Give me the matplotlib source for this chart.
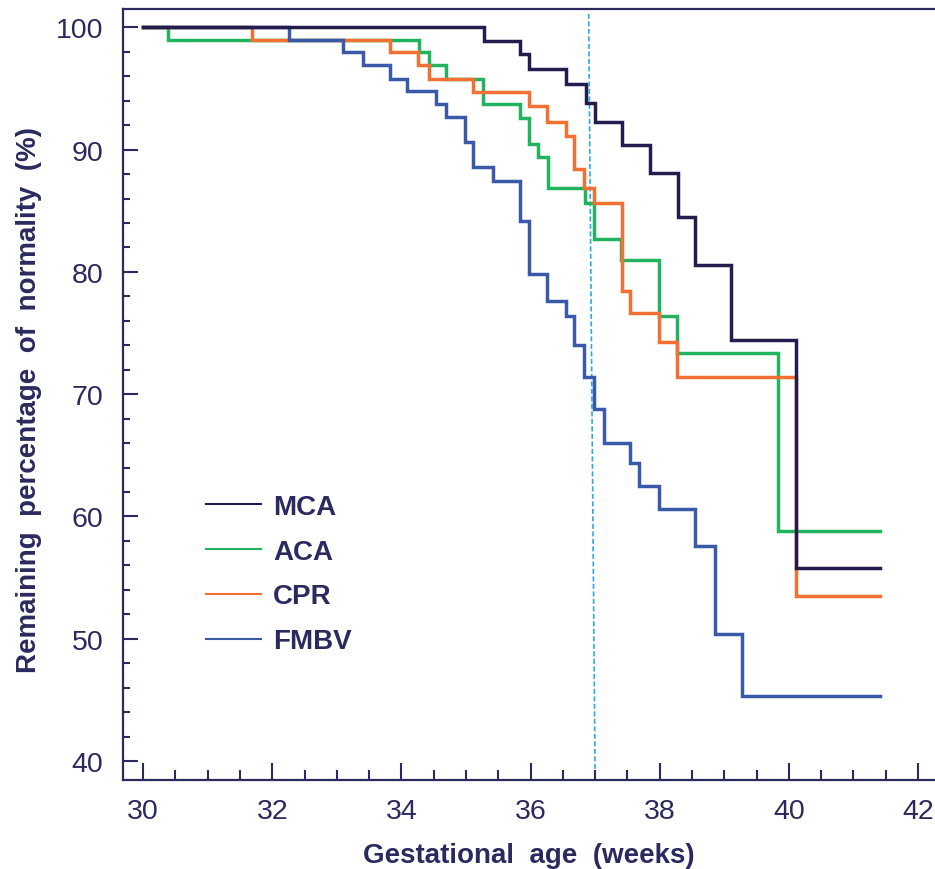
import numpy as np
import matplotlib
matplotlib.use('Agg')
import matplotlib.pyplot as plt
from matplotlib.lines import Line2D

# tweak matplotlib settings
plt.rcParams['font.family'] = 'Liberation Sans'
ink = '#2b2a5e'

# step data (week of drop, remaining % after the drop)
end_week = 41.41

mca_weeks = [30, 35.28, 35.84, 35.97, 36.55, 36.86, 37.0, 37.41, 37.85, 38.28, 38.55, 39.11, 40.11]
mca_pct = [100, 98.9, 97.8, 96.6, 95.4, 93.8, 92.3, 90.4, 88.1, 84.5, 80.6, 74.4, 55.8]

aca_weeks = [30, 30.39, 34.28, 34.42, 34.69, 35.27, 35.84, 35.97, 36.11, 36.27, 36.84, 36.98,
             37.40, 37.99, 38.27, 39.83]
aca_pct = [100, 99.0, 98.0, 96.9, 95.8, 93.7, 92.6, 90.5, 89.4, 86.9, 85.6, 82.7,
           81.0, 76.4, 73.4, 58.8]

cpr_weeks = [30, 31.68, 33.82, 34.26, 34.42, 35.11, 35.98, 36.25, 36.55, 36.67, 36.83, 36.98,
             37.41, 37.54, 37.99, 38.27, 40.11]
cpr_pct = [100, 99.0, 98.0, 96.9, 95.8, 94.7, 93.6, 92.3, 91.1, 88.4, 86.9, 85.6,
           78.4, 76.6, 74.3, 71.4, 53.5]

fmbv_weeks = [30, 32.26, 33.10, 33.40, 33.82, 34.09, 34.54, 34.69, 34.98, 35.11, 35.42, 35.84,
              35.98, 36.26, 36.55, 36.68, 36.83, 36.98, 37.13, 37.54, 37.68, 37.99, 38.55,
              38.86, 39.28]
fmbv_pct = [100, 99.0, 98.0, 96.9, 95.8, 94.8, 93.7, 92.7, 90.6, 88.6, 87.4, 84.2,
            79.8, 77.6, 76.4, 74.0, 71.4, 68.8, 66.0, 64.4, 62.5, 60.6, 57.6,
            50.4, 45.3]

# 37 weeks reference line
term_week = 37.0

series = [
    ('ACA', aca_weeks, aca_pct, '#22b35f'),
    ('CPR', cpr_weeks, cpr_pct, '#f37032'),
    ('FMBV', fmbv_weeks, fmbv_pct, '#3a59a8'),
    ('MCA', mca_weeks, mca_pct, '#231d4e'),
]

fig = plt.figure(figsize=(9.35, 8.7), dpi=100)
ax = fig.add_axes([0.1316, 0.1023, 0.8684, 0.8862])

for name, wk, pct, col in series:
    xs = np.array(wk + [end_week])
    ys = np.array(pct + [pct[-1]])
    ax.step(xs, ys, where='post', color=col, lw=2.5, solid_joinstyle='miter')

ax.plot([term_week - 0.1, term_week], [101.1, 38.45], color='#29abe2', lw=1.2,
        ls=(0, (3, 1.5)), zorder=1)

ax.set_xlim(29.69, 42.263)
ax.set_ylim(38.45, 101.5)

ax.set_xticks(np.arange(30, 43, 2))
ax.set_xticks(np.arange(30, 42.1, 0.5), minor=True)
ax.set_yticks(np.arange(40, 101, 10))
ax.set_yticks(np.arange(40, 101, 2), minor=True)

ax.tick_params(which='both', direction='in', colors=ink, labelsize=20.5, top=False, right=False)
ax.tick_params(axis='x', which='major', length=12, width=1.5, pad=13)
ax.tick_params(axis='x', which='minor', length=7, width=1.5)
ax.tick_params(axis='y', which='major', length=11, width=1.5, pad=14)
ax.tick_params(axis='y', which='minor', length=5, width=1.5)

for s in ['left', 'bottom', 'top']:
    ax.spines[s].set_color(ink)
    ax.spines[s].set_linewidth(1.6)
ax.spines['right'].set_visible(False)

ax.set_xlabel('Gestational  age  (weeks)', fontsize=20, fontweight='bold', color=ink)
ax.set_ylabel('Remaining  percentage  of  normality  (%)', fontsize=20, fontweight='bold', color=ink)
ax.xaxis.set_label_coords(0.5, -0.0804)
ax.yaxis.set_label_coords(-0.0998, 0.4948)

# legend: thin sample lines, in MCA/ACA/CPR/FMBV order
order = ['MCA', 'ACA', 'CPR', 'FMBV']
cols = {name: col for name, wk, pct, col in series}
handles = [Line2D([], [], color=cols[n], lw=1.5) for n in order]
leg = ax.legend(handles, order, loc='center left', bbox_to_anchor=(30.98, 55.3),
                bbox_transform=ax.transData, frameon=False, borderpad=0, borderaxespad=0,
                handlelength=1.95, handletextpad=0.45, labelspacing=0.68,
                prop={'size': 20, 'weight': 'bold'})
for t in leg.get_texts():
    t.set_color(ink)

fig.savefig('out.png', dpi=100)
